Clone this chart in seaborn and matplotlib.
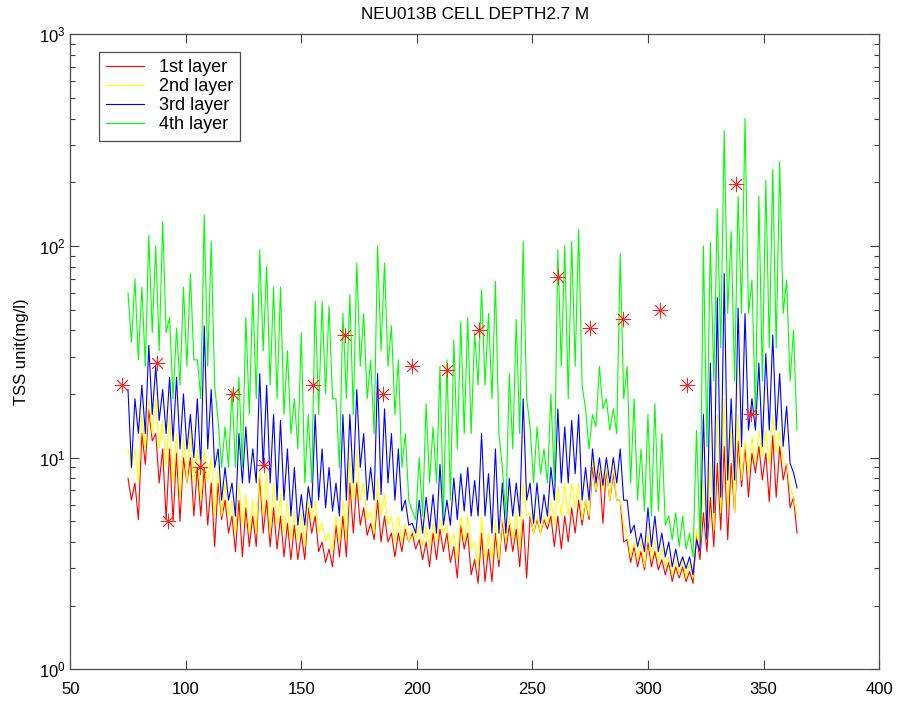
import numpy as np
import pandas as pd
import matplotlib
matplotlib.use("Agg")
import matplotlib.pyplot as plt
import seaborn as sns

days = np.arange(75, 364, 3)

red_hi = [8, 7.6, 13, 17, 13, 11, 11, 10.5, 10, 10, 9, 9, 7.6, 7.6, 6.3, 5.3,
          6.3, 5.8, 5.3, 8.4, 6.3, 5.8, 5.3, 4.9, 4.8, 4.4, 5.8, 5.3, 4, 3.7, 4.8, 5.3,
          7.6, 7.6, 5.8, 4.9, 6.3, 5.3, 4.4, 4.4, 4.6, 4.4, 4.1, 4, 4.4, 4.6, 4.4, 3.8, 4.8,
          4.4, 3.3, 4.4, 3.7, 4.4, 5.1, 4.8, 4.6, 5.1, 5.3, 5.1, 5.1, 5.3, 5.3, 5.3, 5.8,
          6.3, 6.3, 9, 8.8, 8.8, 8.4, 6.3, 4.1, 3.8, 3.6, 4, 3.6, 3.3, 3.2, 3.05, 3.05, 2.9,
          4.3, 5.5, 6.5, 9.4, 11.3, 9.4, 12, 11.3, 10.5, 11.3, 10.5, 12.7, 11.3, 9.4, 6.5]
red_lo = [6.3, 5.1, 9.3, 12, 7.6, 5.1, 5, 5, 7.6, 5.3, 5.3, 4.8, 3.8, 5.1, 4.4, 3.6,
          3.4, 3.8, 3.8, 4.4, 3.8, 3.7, 3.4, 3.3, 3.3, 3.3, 4.4, 3.6, 3.2, 3.05, 3.4, 3.4,
          4.4, 4.8, 4.3, 4.1, 4, 4, 3.4, 3.6, 4, 3.7, 3.3, 3.05, 3.3, 3.6, 3.2, 2.7, 3.7,
          2.8, 2.55, 2.6, 2.6, 3.05, 3.6, 3.6, 3.05, 2.7, 4.4, 4.4, 4.6, 3.8, 3.7, 4, 4.4,
          4.8, 5.1, 6.9, 4.9, 6.3, 6.3, 4, 3.2, 3.05, 2.95, 3.05, 2.95, 2.8, 2.6, 2.7, 2.6, 2.55,
          3.3, 3.6, 3.8, 4.55, 4.1, 5.5, 7.3, 6.5, 8.5, 7.85, 6.2, 6.5, 7.85, 5.8, 4.4]

yel_hi = [11, 11, 16, 19, 19, 15, 16, 13, 13, 14, 11, 11, 10, 9, 7.6, 6.3,
          7.6, 6.7, 6.3, 9, 8.4, 7.6, 6.7, 6.3, 5.6, 5.5, 6.3, 6.3, 4.9, 4.4, 5.3, 6.3,
          10, 11, 7.6, 5.6, 8, 6.7, 5.3, 5.3, 4.9, 4.6, 4.8, 4.8, 4.9, 5.1, 4.8, 4.4, 5.3,
          5.3, 4, 5.3, 4.4, 5.1, 5.3, 5.3, 5.5, 7.6, 5.5, 5.3, 5.3, 6.3, 7.3, 7.6, 7.6,
          7.6, 6.3, 10, 9, 9, 9, 6.3, 4.4, 4, 4, 4.4, 4.1, 3.8, 3.4, 3.3, 3.3, 3.2,
          4.55, 7.85, 9.4, 16, 19, 13.5, 16, 12, 12.5, 13.5, 13.5, 16, 13.5, 9.4, 6.5]
yel_lo = [8.8, 7.6, 11, 13, 11, 9, 7.6, 6.3, 7.6, 7.6, 6.3, 7.6, 5.3, 5.3, 5.3, 4.4,
          4.8, 4.4, 4.4, 5.3, 4.4, 4.8, 4.4, 4.1, 4.1, 3.8, 5.1, 4.4, 4, 3.6, 4, 4.1,
          6.3, 6.3, 5.1, 4.4, 5.3, 4.8, 4, 4, 4, 4.1, 3.8, 3.8, 4, 4.4, 3.8, 3.3, 4,
          3.7, 3.05, 3.3, 3.3, 3.3, 4, 4.1, 3.7, 5.3, 4.4, 4.4, 4.8, 4.8, 5.3, 5.3, 5.8,
          5.1, 5.3, 7, 7, 6.3, 6.3, 4.8, 3.4, 3.3, 3.05, 3.3, 3.2, 3.05, 2.8, 2.8, 2.7, 2.7,
          3.6, 4.1, 4.55, 5.5, 5.8, 5.5, 7.85, 8.5, 9.4, 10, 9.4, 10.5, 9.4, 7.2, 5.3]

blu_hi = [21, 19, 22, 34, 27, 21, 24, 24, 20, 16, 19, 42, 21, 11, 9, 7.6,
          13, 14, 11, 25, 22, 16, 15, 11, 9, 6.7, 7.3, 16, 11, 9, 7.6, 16,
          16, 21, 13, 9, 25, 17, 13, 11, 6.3, 4.9, 6.3, 6.5, 6.7, 9.3, 6.3, 8, 8.4,
          9, 7.8, 13, 8.4, 11, 7.6, 8, 7.6, 19, 7.6, 7.6, 6.7, 9, 17, 14, 15,
          16, 9, 11, 10, 10, 10, 11, 6.3, 4.8, 4.4, 5.8, 5.3, 4.4, 4, 3.7, 3.4, 3.4,
          4.1, 16, 28, 57, 74, 19, 51, 48, 19, 28, 31, 38, 25, 17.5, 8.5]
blu_lo = [9, 13, 13, 16, 15, 13, 12, 11, 11, 10, 9, 11, 9, 6.3, 6.3, 5.3,
          7.6, 7.6, 7.6, 9, 7.6, 6.3, 6.3, 5.3, 4.8, 4.8, 5.8, 6.3, 5.8, 5.6, 5.3, 6.3,
          7.6, 9, 6.3, 6.3, 6.7, 7.6, 6.3, 5.6, 4.8, 4.4, 4.4, 4.6, 4.4, 4.8, 4.8, 5.1, 5.6,
          5.3, 5.3, 5.3, 4.4, 4.4, 4.4, 5.3, 5.3, 6.3, 4.9, 4.9, 5.3, 6.3, 7.6, 7.6, 8.4,
          6.3, 6.3, 7.6, 7.4, 7.6, 7.6, 6.3, 4.4, 3.8, 3.6, 3.8, 3.6, 3.4, 3.05, 3.05, 3.0, 2.8,
          3.6, 4.1, 5.5, 6.5, 7.85, 7.85, 11.3, 13.5, 13.5, 11.3, 13.5, 13.5, 11.3, 9.4, 7.2]

grn_hi = [60, 70, 64, 112, 100, 130, 46, 41, 64, 74, 29, 140, 105, 15, 14, 21,
          24, 46, 60, 96, 80, 64, 64, 32, 19, 39, 16, 55, 55, 52, 19, 48,
          59, 83, 48, 29, 100, 83, 42, 29, 13, 5.6, 10, 18, 14, 27, 29, 36, 44,
          46, 39, 62, 48, 68, 9, 25, 45, 105, 14, 14, 11, 20, 96, 100, 105,
          120, 17, 16, 27, 19, 17, 92, 27, 19, 11, 16, 18, 13, 5.3, 5.5, 5.3, 4.4,
          13.5, 100, 104, 150, 350, 117, 172, 400, 69, 172, 205, 230, 250, 69, 40]
grn_lo = [35, 29, 27, 39, 32, 39, 19, 22, 27, 29, 19, 27, 22, 9, 9, 9,
          9, 16, 19, 32, 22, 19, 16, 13, 11, 7.6, 7.6, 16, 20, 19, 9, 19,
          16, 27, 19, 13, 32, 27, 16, 9, 6.3, 5.1, 5.3, 7.6, 7.6, 5.3, 6.3, 11, 13,
          13, 22, 22, 19, 13, 5.3, 11, 13, 19, 7.6, 8.4, 7.6, 7.6, 27, 19, 27,
          22, 11, 14, 17, 13.5, 13, 19, 7.6, 6.3, 5.6, 5.3, 5.6, 4.8, 4.1, 3.8, 3.7, 3.4,
          4.1, 11.3, 23, 33, 48, 23, 48, 48, 16, 23, 33, 33, 48, 23, 13.5]

# measured samples (red asterisks)
obs_day = [72.4, 87.5, 92.4, 106.1, 120.3, 133.8, 155.1, 169, 185.2, 198.1,
           213.1, 227, 261.1, 275.1, 289, 305.1, 317.1, 337.9, 344.8]
obs_tss = [22, 28, 5, 9, 20, 9.2, 22, 38, 20, 27, 26, 40, 71, 41, 45, 50, 22, 196, 16]

layers = ["1st layer", "2nd layer", "3rd layer", "4th layer"]
colors = ["#ff0000", "#ffff00", "#0000ff", "#00ff00"]

frames = []
for name, hi, lo in zip(layers, [red_hi, yel_hi, blu_hi, grn_hi],
                        [red_lo, yel_lo, blu_lo, grn_lo]):
    x = np.column_stack([days, days + 1.5]).ravel()
    y = np.column_stack([hi, lo]).ravel()
    frames.append(pd.DataFrame({"day": x, "tss": y, "layer": name}))
df = pd.concat(frames, ignore_index=True)

plt.rcParams["font.family"] = ["Liberation Sans", "DejaVu Sans"]
plt.rcParams["mathtext.fontset"] = "custom"
plt.rcParams["mathtext.rm"] = "Liberation Sans"

fig = plt.figure(figsize=(8.98, 7.03), dpi=100)
ax = fig.add_axes([0.0782, 0.0478, 0.9007, 0.9034])

sns.lineplot(data=df, x="day", y="tss", hue="layer", palette=dict(zip(layers, colors)),
             estimator=None, sort=True, lw=0.8, ax=ax)
ax.plot(obs_day, obs_tss, ls="none", marker=(8, 2, 0), color="#ff2020", ms=11, mew=0.6, zorder=5)

ax.set_yscale("log")
ax.set_xlim(50, 400)
ax.set_ylim(1, 1000)
ax.set_xticks(range(50, 401, 50))
ax.set_xlabel("")
ax.set_ylabel("TSS unit(mg/l)", fontsize=12, labelpad=7)
ax.set_title("NEU013B CELL DEPTH2.7 M", fontsize=12.3, pad=11)

ax.tick_params(which="both", direction="in", top=True, right=True, colors="0.25",
               labelcolor="black", labelsize=12)
ax.tick_params(axis="x", pad=9)
ax.tick_params(which="major", length=6.5, width=0.8)
ax.tick_params(which="minor", length=3.5, width=0.8)
for s in ax.spines.values():
    s.set_color("0.3")
    s.set_linewidth(0.9)

handles, labels = ax.get_legend_handles_labels()
leg = ax.legend(handles[:4], labels[:4], loc="upper left", bbox_to_anchor=(0.0356, 0.9726),
                borderaxespad=0, fontsize=13, frameon=True, fancybox=False, framealpha=1,
                edgecolor="0.3", handlelength=2.1, handletextpad=0.8, labelspacing=0.12,
                borderpad=0.4)
leg.get_frame().set_linewidth(0.9)

fig.savefig("out.png", dpi=100)
